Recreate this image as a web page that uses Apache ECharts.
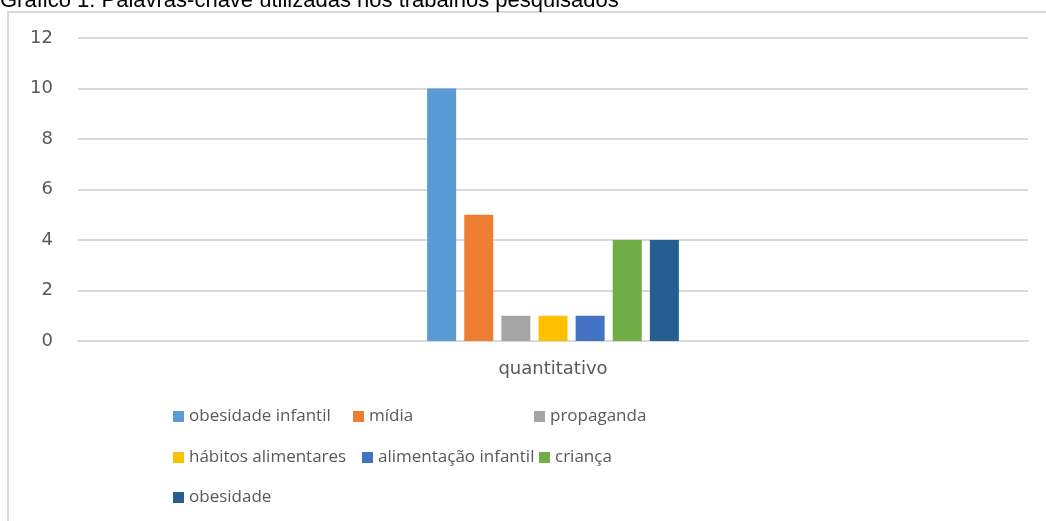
<!DOCTYPE html>
<html><head><meta charset="utf-8">
<script src="https://cdn.jsdelivr.net/npm/echarts@6/dist/echarts.min.js"></script>
<style>html,body{margin:0;padding:0;background:#fff}#c{width:1046px;height:521px}</style>
</head><body><div id="c"></div>
<script>
const titleText = 'Gráfico 1: Palavras-chave utilizadas nos trabalhos pesquisados';
const categories = ['quantitativo'];
const seriesNames = ['obesidade infantil','mídia','propaganda','hábitos alimentares','alimentação infantil','criança','obesidade'];
const seriesValues = [10, 5, 1, 1, 1, 4, 4];
const seriesColors = ['#5b9bd5','#ed7d31','#a5a5a5','#ffc000','#4472c4','#70ad47','#255e91'];
const yTicks = {min: 0, max: 12, interval: 2};

const legendPos = [[173,408],[353,408],[534,408],[173,449],[362,449],[539,449],[173,489]];
const font = '"Open Sans", sans-serif';
const axisFont = '"DejaVu Sans", sans-serif';

const chart = echarts.init(document.getElementById('c'));
chart.setOption({
  animation: false,
  textStyle: {fontFamily: font},
  graphic: [
    {type:'rect', shape:{x:8,y:12,width:1100,height:600}, style:{fill:'none', stroke:'#d9d9d9', lineWidth:2}},
    {type:'text', left:0, top:-10, style:{text:titleText, font:'22px "Liberation Sans", Arial, sans-serif', fill:'#000'}}
  ],
  grid: {left:78, right:18, top:38, bottom:180, containLabel:false},
  legend: seriesNames.map((n,i)=>({
    data:[n], left:legendPos[i][0], top:legendPos[i][1], padding:0,
    icon:'rect', itemWidth:11, itemHeight:11, itemGap:0,
    textStyle:{fontSize:17, color:'#595959', fontFamily:font}
  })),
  xAxis: {type:'category', data:categories,
    axisLine:{show:true, lineStyle:{color:'#d9d9d9', width:2}}, axisTick:{show:false},
    axisLabel:{fontSize:18, color:'#595959', margin:19, fontFamily:axisFont}},
  yAxis: {type:'value', min:yTicks.min, max:yTicks.max, interval:yTicks.interval,
    axisLine:{show:false}, axisTick:{show:false},
    splitLine:{lineStyle:{color:'#d9d9d9', width:2}},
    axisLabel:{fontSize:18, color:'#595959', margin:25, fontFamily:axisFont}},
  series: seriesNames.map((n,i)=>({
    name:n, type:'bar', data:[seriesValues[i]], barWidth:29, barGap:'28%',
    itemStyle:{color:seriesColors[i]}
  }))
});
</script></body></html>
